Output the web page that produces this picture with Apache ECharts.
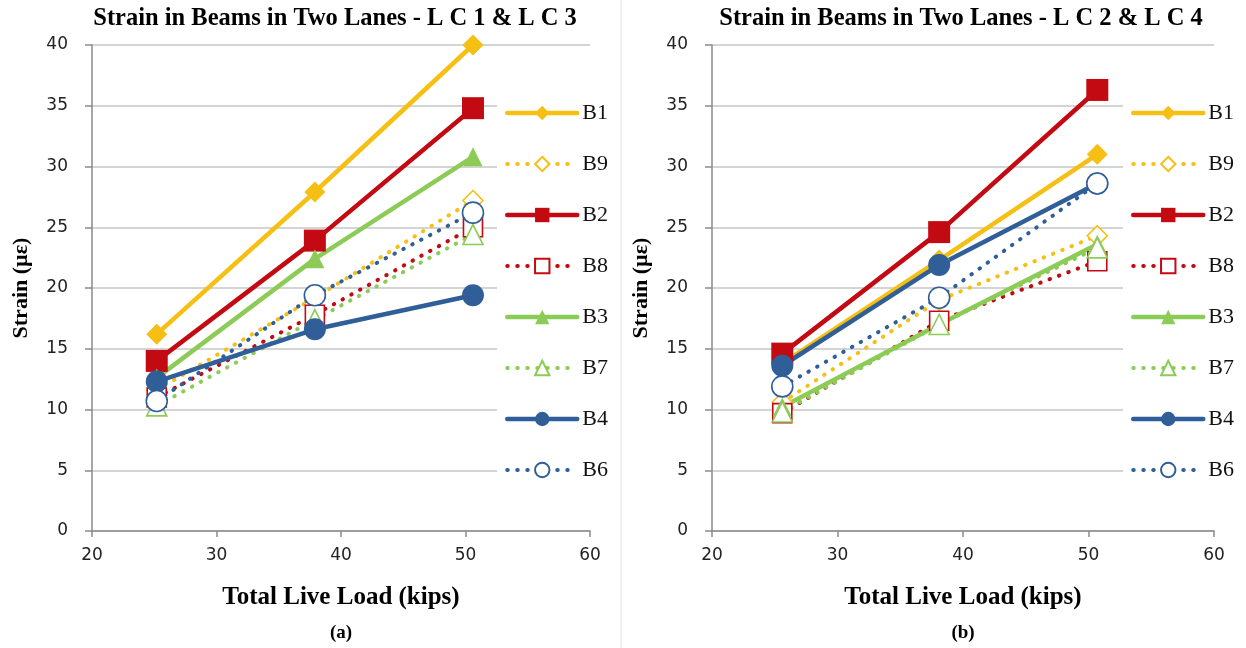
<!DOCTYPE html>
<html>
<head>
<meta charset="utf-8">
<script src="https://cdn.jsdelivr.net/npm/echarts@6/dist/echarts.min.js"></script>
<style>
  html, body { margin: 0; padding: 0; background: #fff; }
  #chart { width: 1246px; height: 648px; }
</style>
</head>
<body>
<div id="chart"></div>
<script>
// Total live load (kips) for the three truck positions
const loadsLC13 = [25.2, 37.9, 50.6];
const loadsLC24 = [25.6, 38.1, 50.7];

// Legend / series order
const beams = ['B1', 'B9', 'B2', 'B8', 'B3', 'B7', 'B4', 'B6'];

// Strain (µε), LC 1 & LC 3
const lc13_B1 = [16.2, 27.9, 40.0];
const lc13_B9 = [11.6, 19.2, 27.2];
const lc13_B2 = [14.0, 23.9, 34.8];
const lc13_B8 = [11.0, 17.8, 25.0];
const lc13_B3 = [12.6, 22.4, 30.8];
const lc13_B7 = [10.3, 17.4, 24.4];
const lc13_B4 = [12.3, 16.6, 19.4];
const lc13_B6 = [10.7, 19.4, 26.2];

// Strain (µε), LC 2 & LC 4
const lc24_B1 = [13.8, 22.3, 31.0];
const lc24_B9 = [10.6, 19.0, 24.3];
const lc24_B2 = [14.6, 24.6, 36.3];
const lc24_B8 = [9.7, 17.3, 22.2];
const lc24_B3 = [10.2, 17.0, 23.6];
const lc24_B7 = [9.8, 17.0, 23.3];
const lc24_B4 = [13.6, 21.9, 28.6];
const lc24_B6 = [11.9, 19.2, 28.6];

// Axis ticks
const xTicks = { min: 20, max: 60, step: 10 };
const yTicks = { min: 0, max: 40, step: 5 };

const panels = [
  { title: 'Strain in Beams in Two Lanes - L C 1 & L C 3', tag: '(a)', loads: loadsLC13,
    values: { B1: lc13_B1, B9: lc13_B9, B2: lc13_B2, B8: lc13_B8, B3: lc13_B3, B7: lc13_B7, B4: lc13_B4, B6: lc13_B6 } },
  { title: 'Strain in Beams in Two Lanes - L C 2 & L C 4', tag: '(b)', loads: loadsLC24,
    values: { B1: lc24_B1, B9: lc24_B9, B2: lc24_B2, B8: lc24_B8, B3: lc24_B3, B7: lc24_B7, B4: lc24_B4, B6: lc24_B6 } }
];

// Appearance of each beam's line
const GOLD = '#F5BF14', RED = '#C30A12', GREEN = '#8DCB57', BLUE = '#2F5E98';
const look = {
  B1: { color: GOLD,  dotted: false, symbol: 'diamond',  size: 21, hollow: false },
  B9: { color: GOLD,  dotted: true,  symbol: 'diamond',  size: 20, hollow: true },
  B2: { color: RED,   dotted: false, symbol: 'rect',     size: 22, hollow: false },
  B8: { color: RED,   dotted: true,  symbol: 'rect',     size: 19, hollow: true },
  B3: { color: GREEN, dotted: false, symbol: 'triangle', size: 19, hollow: false },
  B7: { color: GREEN, dotted: true,  symbol: 'triangle', size: 20, hollow: true },
  B4: { color: BLUE,  dotted: false, symbol: 'circle',   size: 22, hollow: false },
  B6: { color: BLUE,  dotted: true,  symbol: 'circle',   size: 21, hollow: true }
};

const grids = [
  { left: 92, top: 45, width: 498, height: 486 },
  { left: 712, top: 45, width: 502, height: 486 }
];
const legendLeft = [497, 1123];
const titleCenter = [335, 961];

const serif = '"Liberation Serif", "DejaVu Serif", serif';
const sans = '"DejaVu Sans", sans-serif';
const axisGray = '#8a8a8a';

const xAxes = [], yAxes = [], series = [], legends = [], graphics = [];

panels.forEach((p, i) => {
  xAxes.push({
    type: 'value', gridIndex: i, min: xTicks.min, max: xTicks.max, interval: xTicks.step,
    axisLine: { show: true, lineStyle: { color: axisGray, width: 1.5 } },
    axisTick: { show: true, length: 6, lineStyle: { color: axisGray, width: 1.5 } },
    splitLine: { show: false },
    axisLabel: { fontFamily: sans, fontSize: 17, color: '#222', margin: 16 },
    name: 'Total Live Load (kips)', nameLocation: 'middle', nameGap: 54,
    nameTextStyle: { fontFamily: serif, fontWeight: 'bold', fontSize: 25, color: '#000' }
  });
  yAxes.push({
    type: 'value', gridIndex: i, min: yTicks.min, max: yTicks.max, interval: yTicks.step,
    axisLine: { show: true, lineStyle: { color: axisGray, width: 1.5 } },
    axisTick: { show: true, length: 7, lineStyle: { color: axisGray, width: 1.5 } },
    splitLine: { show: true, lineStyle: { color: '#c6c6c6', width: 1.5 } },
    axisLabel: { fontFamily: sans, fontSize: 17, color: '#222', margin: 24 },
    name: 'Strain (µε)', nameLocation: 'middle', nameGap: 60, nameRotate: 90,
    nameTextStyle: { fontFamily: serif, fontWeight: 'bold', fontSize: 22, color: '#000' }
  });

  beams.forEach(b => {
    const s = look[b];
    series.push({
      name: b, type: 'line', xAxisIndex: i, yAxisIndex: i,
      data: p.loads.map((x, k) => [x, p.values[b][k]]),
      symbol: s.symbol, symbolSize: s.size, showAllSymbol: true,
      lineStyle: s.dotted
        ? { color: s.color, width: 4, type: [0.5, 9.5], cap: 'round' }
        : { color: s.color, width: 4.5, type: 'solid' },
      itemStyle: s.hollow
        ? { color: '#fff', borderColor: s.color, borderWidth: 1.6 }
        : { color: s.color, borderWidth: 0 },
      emphasis: { disabled: true },
      animation: false
    });
  });

  legends.push({
    orient: 'vertical', left: legendLeft[i], top: 72,
    data: beams, itemWidth: 70, itemHeight: 18, itemGap: 29,
    backgroundColor: '#fff', padding: [30, 12, 12, 8],
    selectedMode: false,
    lineStyle: { width: 'inherit', type: 'inherit', cap: 'round' },
    textStyle: { fontFamily: serif, fontSize: 22, color: '#111' }
  });

  graphics.push({
    type: 'text', x: titleCenter[i], y: 19,
    style: { text: p.title, fontFamily: serif, fontWeight: 'bold', fontSize: 24.5, fill: '#000',
             textAlign: 'center', textVerticalAlign: 'middle' }
  });
  graphics.push({
    type: 'text', x: (grids[i].left + grids[i].width / 2), y: 633,
    style: { text: p.tag, fontFamily: serif, fontWeight: 'bold', fontSize: 19, fill: '#000',
             textAlign: 'center', textVerticalAlign: 'middle' }
  });
});

// thin divider between the two panels
graphics.push({
  type: 'line', shape: { x1: 621, y1: 0, x2: 621, y2: 648 },
  style: { stroke: '#ebebeb', lineWidth: 1.5 }, z: -1
});

const chart = echarts.init(document.getElementById('chart'), null, { renderer: 'canvas' });
chart.setOption({
  backgroundColor: '#fff',
  animation: false,
  grid: grids,
  xAxis: xAxes,
  yAxis: yAxes,
  legend: legends,
  series: series,
  graphic: graphics
});
</script>
</body>
</html>
